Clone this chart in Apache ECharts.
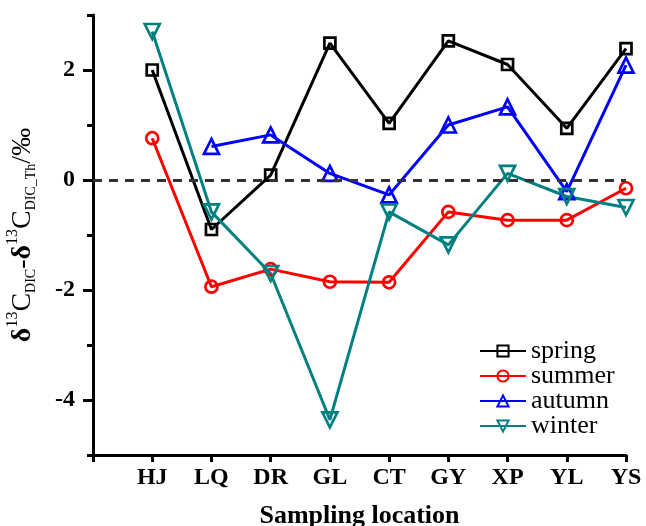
<!DOCTYPE html>
<html>
<head>
<meta charset="utf-8">
<script src="https://cdn.jsdelivr.net/npm/echarts@6/dist/echarts.min.js"></script>
<style>
html,body{margin:0;padding:0;background:#fff;}
#chart{width:646px;height:526px;}
</style>
</head>
<body>
<div id="chart"></div>
<script>
const categories = ['HJ', 'LQ', 'DR', 'GL', 'CT', 'GY', 'XP', 'YL', 'YS'];
const seriesNames = ['spring', 'summer', 'autumn', 'winter'];
const spring = [2.00, -0.90, 0.09, 2.49, 1.03, 2.53, 2.10, 0.94, 2.39];
const summer = [0.76, -1.94, -1.62, -1.85, -1.86, -0.58, -0.73, -0.73, -0.15];
const autumn = [null, 0.61, 0.82, 0.12, -0.27, 1.00, 1.33, -0.21, 2.09];
const winter = [2.70, -0.58, -1.70, -4.36, -0.58, -1.18, 0.12, -0.30, -0.50];
const yTickLabels = [-4, -2, 0, 2];

const FONT = '"Liberation Serif", "Times New Roman", serif';
const colors = ['#000000', '#ff0000', '#0000ff', '#008080'];
const symbols = ['rect', 'circle', 'triangle', 'triangle'];
const symbolSizes = [11, 12, 15, 15];
const rotations = [0, 0, 0, 180];
const values = [spring, summer, autumn, winter];

const toPairs = arr => arr.map((v, i) => [i + 1, v]);

const series = values.map((arr, k) => {
  const s = {
    name: seriesNames[k],
    type: 'line',
    xAxisIndex: 0,
    yAxisIndex: 0,
    data: toPairs(arr),
    symbol: symbols[k],
    symbolSize: symbolSizes[k],
    symbolRotate: rotations[k],
    showAllSymbol: true,
    connectNulls: false,
    lineStyle: { color: colors[k], width: 3 },
    itemStyle: { color: 'rgba(255,255,255,0)', borderColor: colors[k], borderWidth: 2.7 },
    emphasis: { disabled: true },
    animation: false,
    z: 3
  };
  if (k === 0) {
    s.markLine = {
      silent: true,
      symbol: 'none',
      label: { show: false },
      lineStyle: { type: [9, 7], color: '#333333', width: 3 },
      data: [{ yAxis: 0 }],
      animation: false
    };
  }
  return s;
});

const chart = echarts.init(document.getElementById('chart'), null, { renderer: 'canvas' });
chart.setOption({
  backgroundColor: '#ffffff',
  animation: false,
  grid: { left: 93, right: 20, top: 15, bottom: 71, containLabel: false, outerBoundsMode: 'none' },
  legend: {
    orient: 'vertical',
    left: 474,
    top: 333,
    itemWidth: 46,
    itemHeight: 14,
    itemGap: -1,
    data: seriesNames,
    textStyle: { fontFamily: FONT, fontSize: 26, color: '#000' }
  },
  xAxis: {
    type: 'value',
    min: 0,
    max: 9,
    interval: 1,
    name: 'Sampling location',
    nameLocation: 'middle',
    nameGap: 48,
    nameTextStyle: { fontFamily: FONT, fontSize: 26, fontWeight: 'bold', color: '#000' },
    axisLine: { show: true, onZero: false, lineStyle: { color: '#000', width: 3 } },
    axisTick: { show: true, inside: false, length: 7, lineStyle: { color: '#000', width: 3 } },
    axisLabel: {
      margin: 11,
      fontFamily: FONT, fontSize: 24, fontWeight: 'bold', color: '#000',
      formatter: v => categories[v - 1] || ''
    },
    splitLine: { show: false }
  },
  yAxis: [
    {
      type: 'value',
      min: -5,
      max: 3,
      interval: 1,
      position: 'left',
      name: '{d|δ}{sup|13}{m|C}{sub|DIC}{m|-}{d|δ}{sup|13}{m|C}{sub|DIC_Th}{m|/‰}',
      nameLocation: 'middle',
      nameRotate: 90,
      nameGap: 52,
      nameTextStyle: {
        color: '#000',
        fontFamily: FONT,
        rich: {
          d: { fontFamily: FONT, fontSize: 28, fontWeight: 'bold', color: '#000' },
          m: { fontFamily: FONT, fontSize: 28, color: '#000' },
          sup: { fontFamily: FONT, fontSize: 16, color: '#000', padding: [0, 0, 20, 0] },
          sub: { fontFamily: FONT, fontSize: 14, color: '#000', padding: [17, 0, 0, 0] }
        }
      },
      axisLine: { show: true, onZero: false, lineStyle: { color: '#000', width: 3 } },
      axisTick: { show: true, inside: false, length: 6, lineStyle: { color: '#000', width: 3 } },
      axisLabel: { show: false },
      splitLine: { show: false }
    },
    {
      type: 'value',
      min: -5,
      max: 3,
      interval: 1,
      position: 'left',
      axisLine: { show: false, onZero: false },
      axisTick: { show: true, inside: false, length: 10, customValues: yTickLabels, lineStyle: { color: '#000', width: 3 } },
      axisLabel: {
        show: true, margin: 18, customValues: yTickLabels,
        fontFamily: FONT, fontSize: 24, fontWeight: 'bold', color: '#000'
      },
      splitLine: { show: false }
    }
  ],
  series: series
});
</script>
</body>
</html>
